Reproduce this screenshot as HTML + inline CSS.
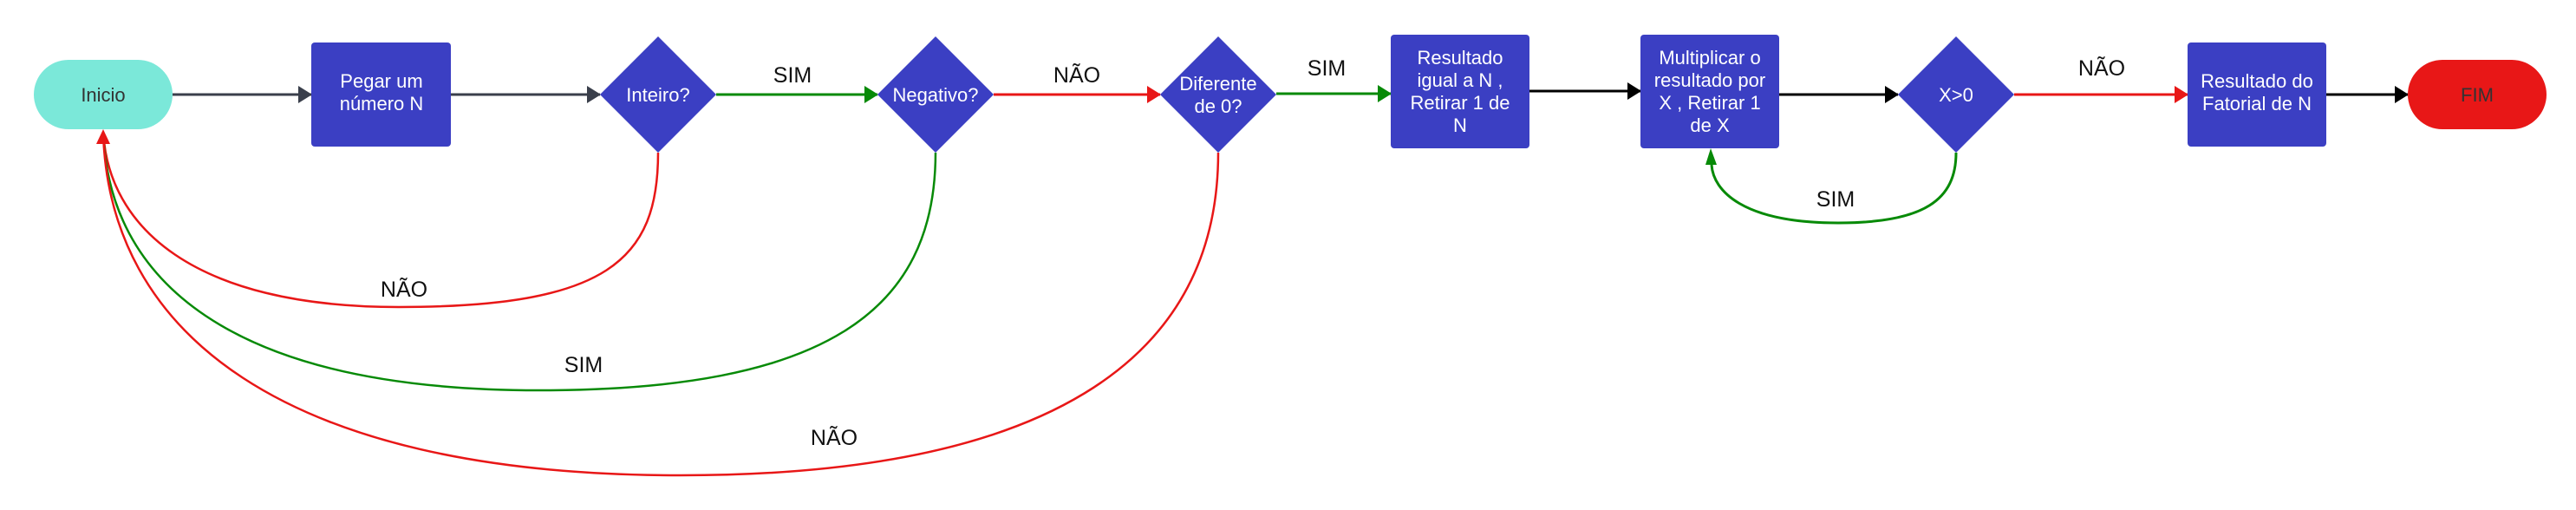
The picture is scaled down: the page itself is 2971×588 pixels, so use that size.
<!DOCTYPE html>
<html><head><meta charset="utf-8"><style>
html,body{margin:0;padding:0;background:#fff;}
svg{display:block;}
text{font-family:"Liberation Sans",Arial,sans-serif;}
.n{fill:#fff;font-size:22px;text-anchor:middle;}
.l{fill:#111;font-size:25px;text-anchor:middle;}
</style></head><body>
<svg width="2971" height="588" viewBox="0 0 2971 588" xmlns="http://www.w3.org/2000/svg">
<defs>
<marker id="ag" markerWidth="16" markerHeight="20" refX="15" refY="10" orient="auto" markerUnits="userSpaceOnUse"><path d="M0,0 L16,10 L0,20 Z" fill="#3a3f4b"/></marker>
<marker id="ab" markerWidth="16" markerHeight="20" refX="15" refY="10" orient="auto" markerUnits="userSpaceOnUse"><path d="M0,0 L16,10 L0,20 Z" fill="#000"/></marker>
<marker id="ar" markerWidth="16" markerHeight="20" refX="15" refY="10" orient="auto" markerUnits="userSpaceOnUse"><path d="M0,0 L16,10 L0,20 Z" fill="#e81717"/></marker>
<marker id="agr" markerWidth="16" markerHeight="20" refX="15" refY="10" orient="auto" markerUnits="userSpaceOnUse"><path d="M0,0 L16,10 L0,20 Z" fill="#078a07"/></marker>
</defs>

<!-- straight connectors -->
<line x1="199" y1="109" x2="359" y2="109" stroke="#3a3f4b" stroke-width="3" marker-end="url(#ag)"/>
<line x1="520" y1="109" x2="692" y2="109" stroke="#3a3f4b" stroke-width="3" marker-end="url(#ag)"/>
<line x1="826" y1="109" x2="1012" y2="109" stroke="#078a07" stroke-width="3" marker-end="url(#agr)"/>
<line x1="1146" y1="109" x2="1338" y2="109" stroke="#e81717" stroke-width="3" marker-end="url(#ar)"/>
<line x1="1472" y1="108" x2="1604" y2="108" stroke="#078a07" stroke-width="3" marker-end="url(#agr)"/>
<line x1="1764" y1="105" x2="1892" y2="105" stroke="#000" stroke-width="3" marker-end="url(#ab)"/>
<line x1="2052" y1="109" x2="2189" y2="109" stroke="#000" stroke-width="3" marker-end="url(#ab)"/>
<line x1="2323" y1="109" x2="2523" y2="109" stroke="#e81717" stroke-width="3" marker-end="url(#ar)"/>
<line x1="2683" y1="109" x2="2777" y2="109" stroke="#000" stroke-width="3" marker-end="url(#ab)"/>

<!-- curves back to Inicio -->
<path d="M759,176 C759,300 700,354 460,354 C220,354 125,260 119,152" fill="none" stroke="#e81717" stroke-width="2.5"/>
<path d="M1079,176 C1079,360 950,450 622,450 C260,450 125,320 119,152" fill="none" stroke="#078a07" stroke-width="2.5"/>
<path d="M1405,176 C1405,420 1200,548 785,548 C320,548 125,380 119,152" fill="none" stroke="#e81717" stroke-width="2.5"/>
<path d="M111,166 L119,149 L127,166 Z" fill="#e81717"/>
<!-- loop -->
<path d="M2256,176 C2256,230 2220,257 2120,257 C2010,257 1976,220 1974,190" fill="none" stroke="#078a07" stroke-width="3"/>
<path d="M1967,190 L1973,171 L1980,190 Z" fill="#078a07"/>

<!-- nodes -->
<rect x="39" y="69" width="160" height="80" rx="40" fill="#7be8d9"/>
<text class="n" x="119" y="117" style="fill:#333">Inicio</text>

<rect x="359" y="49" width="161" height="120" rx="4" fill="#3b3fc3"/>
<text class="n" x="440" y="101">Pegar um</text>
<text class="n" x="440" y="127">número N</text>

<polygon points="759,42 826,109 759,176 692,109" fill="#3b3fc3"/>
<text class="n" x="759" y="117">Inteiro?</text>

<polygon points="1079,42 1146,109 1079,176 1012,109" fill="#3b3fc3"/>
<text class="n" x="1079" y="117">Negativo?</text>

<polygon points="1405,42 1472,109 1405,176 1338,109" fill="#3b3fc3"/>
<text class="n" x="1405" y="104">Diferente</text>
<text class="n" x="1405" y="130">de 0?</text>

<rect x="1604" y="40" width="160" height="131" rx="4" fill="#3b3fc3"/>
<text class="n" x="1684" y="74">Resultado</text>
<text class="n" x="1684" y="100">igual a N ,</text>
<text class="n" x="1684" y="126">Retirar 1 de</text>
<text class="n" x="1684" y="152">N</text>

<rect x="1892" y="40" width="160" height="131" rx="4" fill="#3b3fc3"/>
<text class="n" x="1972" y="74">Multiplicar o</text>
<text class="n" x="1972" y="100">resultado por</text>
<text class="n" x="1972" y="126">X , Retirar 1</text>
<text class="n" x="1972" y="152">de X</text>

<polygon points="2256,42 2323,109 2256,176 2189,109" fill="#3b3fc3"/>
<text class="n" x="2256" y="117">X&gt;0</text>

<rect x="2523" y="49" width="160" height="120" rx="4" fill="#3b3fc3"/>
<text class="n" x="2603" y="101">Resultado do</text>
<text class="n" x="2603" y="127">Fatorial de N</text>

<rect x="2777" y="69" width="160" height="80" rx="40" fill="#e81717"/>
<text class="n" x="2857" y="117" style="fill:#333">FIM</text>

<!-- labels -->
<text class="l" x="914" y="95">SIM</text>
<text class="l" x="1242" y="95">NÃO</text>
<text class="l" x="1530" y="87">SIM</text>
<text class="l" x="2424" y="87">NÃO</text>
<text class="l" x="2117" y="238">SIM</text>
<text class="l" x="466" y="342">NÃO</text>
<text class="l" x="673" y="429">SIM</text>
<text class="l" x="962" y="513">NÃO</text>
</svg>
</body></html>
